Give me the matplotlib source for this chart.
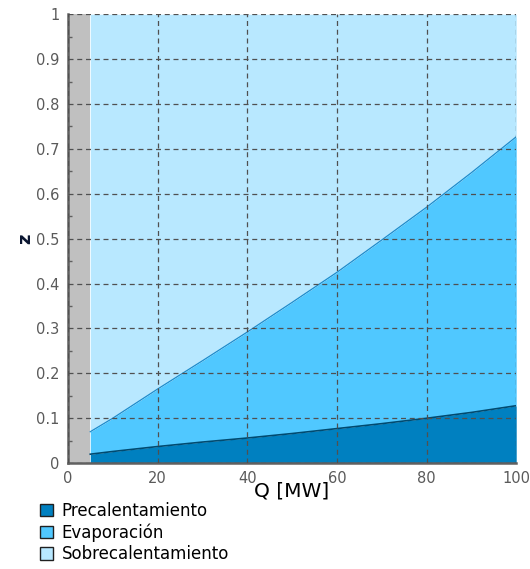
import matplotlib
matplotlib.use('Agg')
import matplotlib.pyplot as plt
from matplotlib.patches import Patch
from matplotlib.ticker import MultipleLocator, FormatStrFormatter

# heat duty [MW] and cumulative fraction of the exchanger length
q = [5, 10, 20, 30, 40, 50, 60, 70, 80, 90, 100]
z_pre = [0.020, 0.026, 0.037, 0.047, 0.056, 0.066, 0.077, 0.088, 0.100, 0.113, 0.128]
z_evap = [0.070, 0.100, 0.165, 0.228, 0.292, 0.358, 0.425, 0.497, 0.570, 0.647, 0.727]
z_top = [1.0] * len(q)
labels = ['Precalentamiento', 'Evaporación', 'Sobrecalentamiento']
colors = ['#0080C0', '#50C8FF', '#B8E8FF']

fig = plt.figure(figsize=(5.3, 5.69), dpi=100)
ax = fig.add_axes([0.128, 0.186, 0.846, 0.789])

# zone without data
ax.axvspan(0, q[0], color='#C0C0C0', lw=0)

ax.fill_between(q, 0, z_pre, color=colors[0], lw=0)
ax.fill_between(q, z_pre, z_evap, color=colors[1], lw=0)
ax.fill_between(q, z_evap, z_top, color=colors[2], lw=0)
ax.plot(q, z_pre, color='#004A70', lw=1.2)
ax.plot(q, z_evap, color='#1C8CCC', lw=0.9)

ax.set_xlim(0, 100)
ax.set_ylim(0, 1)
ax.xaxis.set_major_locator(MultipleLocator(20))
ax.yaxis.set_major_locator(MultipleLocator(0.1))
ax.yaxis.set_minor_locator(MultipleLocator(0.05))
ax.yaxis.set_major_formatter(FormatStrFormatter('%g'))
ax.grid(True, which='major', linestyle=(0, (4, 3)), color='#505050', lw=0.9)
ax.set_axisbelow(False)

for s in ['top', 'right']:
    ax.spines[s].set_visible(False)
for s in ['left', 'bottom']:
    ax.spines[s].set_color('#606060')
    ax.spines[s].set_linewidth(1.8)

ax.tick_params(which='both', direction='in', colors='#606060', labelcolor='#5A5A5A',
               labelsize=10.5)
ax.tick_params(which='major', length=0, pad=6)
ax.tick_params(which='minor', length=3, width=1)

ax.set_xlabel('Q [MW]', fontsize=14.5)
ax.xaxis.set_label_coords(0.5, -0.04)
ax.set_ylabel('z', fontsize=13, fontweight='bold', color='#0A1530')
ax.yaxis.set_label_coords(-0.074, 0.5)

handles = [Patch(facecolor=c, edgecolor='#202020', lw=1) for c in colors]
fig.legend(handles, labels, loc='upper left', bbox_to_anchor=(0.075, 0.118),
           frameon=False, fontsize=12, handlelength=0.8, handleheight=0.8,
           handletextpad=0.5, labelspacing=0.2, borderaxespad=0, borderpad=0)

plt.savefig('out.png', dpi=100)
